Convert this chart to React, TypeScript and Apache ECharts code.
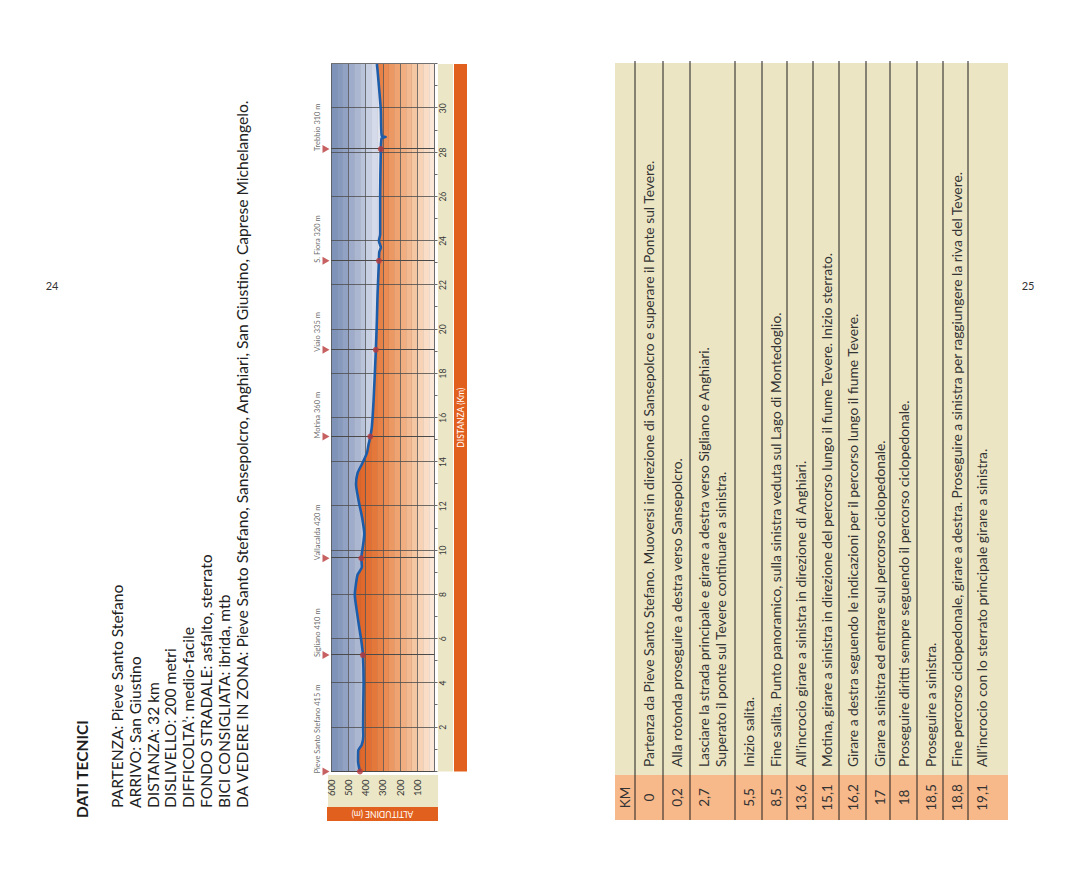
import React, { useEffect, useRef } from 'react';
import * as echarts from 'echarts';

// ---------- data ----------
const profileKm = [0, 0.45, 0.95, 1.2, 1.6, 2, 3, 4, 5.27, 5.9, 6.7, 7.4, 8, 8.5, 8.9, 9.25, 9.65, 10.3, 10.75, 11.5, 12.25, 13, 13.5, 13.9, 14.4, 14.8, 15.15, 15.6, 16.8, 19.07, 20.4, 21.6, 23.1, 23.5, 23.7, 24, 24.3, 26.1, 28.15, 28.65, 28.7, 28.75, 29.9, 30.7, 31.7, 32];
const profileAlt = [432, 443, 442, 422, 413, 414, 413, 411, 415, 424, 440, 453, 462, 455, 446, 421, 424, 413, 407, 420, 440, 455, 446, 421, 392, 382, 372, 363, 353, 340, 334, 330, 322, 320, 311, 322, 315, 315, 311, 306, 283, 306, 311, 319, 330, 334];

const landmarkNames = ['Pieve Santo Stefano 415 m', 'Sigliano 410 m', 'Vallacalda 420 m', 'Motina 360 m', 'Viaio 335 m', 'S. Fiora 320 m', 'Trebbio 310 m'];
const landmarkKm = [0, 5.27, 9.65, 15.15, 19.07, 23.1, 28.15];
const landmarkAlt = [432, 415, 424, 372, 340, 322, 311];

const infoTitle = 'DATI TECNICI';
const infoLines = [
  'PARTENZA: Pieve Santo Stefano',
  'ARRIVO: San Giustino',
  'DISTANZA: 32 km',
  'DISLIVELLO: 200 metri',
  'DIFFICOLTA\u2019: medio-facile',
  'FONDO STRADALE: asfalto, sterrato',
  'BICI CONSIGLIATA: ibrida, mtb',
  'DA VEDERE IN ZONA: Pieve Santo Stefano, Sansepolcro, Anghiari, San Giustino, Caprese Michelangelo.',
];

const tableKm = ['0', '0,2', '2,7', '5,5', '8,5', '13,6', '15,1', '16,2', '17', '18', '18,5', '18,8', '19,1'];
const tableText = [
  'Partenza da Pieve Santo Stefano. Muoversi in direzione di Sansepolcro e superare il Ponte sul Tevere.',
  'Alla rotonda proseguire a destra verso Sansepolcro.',
  'Lasciare la strada principale e girare a destra verso Sigliano e Anghiari.\nSuperato il ponte sul Tevere continuare a sinistra.',
  'Inizio salita.',
  'Fine salita. Punto panoramico, sulla sinistra veduta sul Lago di Montedoglio.',
  'All\u2019incrocio girare a sinistra in direzione di Anghiari.',
  'Motina, girare a sinistra in direzione del percorso lungo il fiume Tevere. Inizio sterrato.',
  'Girare a destra seguendo le indicazioni per il percorso lungo il fiume Tevere.',
  'Girare a sinistra ed entrare sul percorso ciclopedonale.',
  'Proseguire diritti sempre seguendo il percorso ciclopedonale.',
  'Proseguire a sinistra.',
  'Fine percorso ciclopedonale, girare a destra. Proseguire a sinistra per raggiungere la riva del Tevere.',
  'All\u2019incrocio con lo sterrato principale girare a sinistra.',
];

const pageNumbers = ['24', '25'];
const altitudeAxisName = 'ALTITUDINE (m)';
const distanceAxisName = 'DISTANZA (Km)';

// stepped colour bands (top = 600 m, bottom = 0 m)
const blueBands = ['#7f92b8', '#8899be', '#92a2c4', '#9eabca', '#abb7d1', '#b9c3da', '#c7cfe2', '#d4dae9', '#dfe3ee', '#e8eaf1', '#eceef3', '#eceef3', '#eceef3', '#eceef3', '#eceef3', '#eceef3', '#eceef3', '#eceef3'];
const orangeBands = ['#dd5f22', '#dd5f22', '#dd5f22', '#de6124', '#df6427', '#e0682b', '#e26e31', '#e4773a', '#e78146', '#ea8c54', '#ec9862', '#efa371', '#f1af81', '#f3ba91', '#f5c6a2', '#f8d2b4', '#f9ddc6', '#fbe8d9'];

// ---------- layout ----------
const W = 886;
const H = 1080;
const GRID = { left: 114.5, top: 331, width: 707.5, height: 103.5 };
const FONT = 'Lato';

function steppedGradient(colors: string[]) {
  const stops: { offset: number; color: string }[] = [];
  const n = colors.length;
  colors.forEach((c, i) => {
    stops.push({ offset: i / n, color: c });
    stops.push({ offset: (i + 1) / n, color: c });
  });
  return new echarts.graphic.LinearGradient(0, GRID.top, 0, GRID.top + GRID.height, stops, true);
}

function buildGraphic() {
  const els: any[] = [];
  // info block
  els.push({
    type: 'text', x: 68, y: 82, z: 10,
    style: { text: infoTitle, fontFamily: FONT, fontWeight: 'bold', fontSize: 15.5, fill: '#1e1e1e', verticalAlign: 'middle' },
  });
  infoLines.forEach((t, i) => {
    els.push({
      type: 'text', x: 78, y: 117 + 17.8 * i, z: 10,
      style: { text: t, fontFamily: FONT, fontSize: 15.6, fill: '#222', verticalAlign: 'middle' },
    });
  });
  // page numbers (upright on the landscape page)
  els.push({ type: 'text', x: 601, y: 52, rotation: -Math.PI / 2, z: 10, style: { text: pageNumbers[0], fontFamily: FONT, fontSize: 11, fill: '#333', align: 'center', verticalAlign: 'middle' } });
  els.push({ type: 'text', x: 601, y: 1028, rotation: -Math.PI / 2, z: 10, style: { text: pageNumbers[1], fontFamily: FONT, fontSize: 11, fill: '#333', align: 'center', verticalAlign: 'middle' } });

  // chart frames
  els.push({ type: 'rect', z: 0, shape: { x: 79, y: 328, width: 32, height: 110 }, style: { fill: '#ebe6c6' } });
  els.push({ type: 'rect', z: 0, shape: { x: 65, y: 327, width: 14, height: 111 }, style: { fill: '#e2601d' } });
  els.push({ type: 'text', x: 72, y: 382.5, rotation: Math.PI / 2, z: 10, style: { text: altitudeAxisName, fontFamily: FONT, fontSize: 8.5, fill: '#fff', align: 'center', verticalAlign: 'middle' } });
  els.push({ type: 'rect', z: 0, shape: { x: GRID.left, y: 438, width: GRID.width, height: 15 }, style: { fill: '#ebe6c6' } });
  els.push({ type: 'rect', z: 0, shape: { x: GRID.left, y: 454, width: GRID.width, height: 13 }, style: { fill: '#e2601d' } });
  els.push({ type: 'text', x: GRID.left + GRID.width / 2, y: 460.5, z: 10, style: { text: distanceAxisName, fontFamily: FONT, fontSize: 8.5, fill: '#fff', align: 'center', verticalAlign: 'middle' } });

  // table
  const tTop = 615;
  const tBottom = 1008;
  const headerH = 20;
  const rowH = [28, 27, 45, 27, 25, 26, 26, 27, 24, 27, 26, 25, 40];
  els.push({ type: 'rect', z: 0, shape: { x: 66, y: tTop, width: 45, height: tBottom - tTop }, style: { fill: '#f8b98a' } });
  els.push({ type: 'rect', z: 0, shape: { x: 111, y: tTop, width: 712, height: tBottom - tTop }, style: { fill: '#ebe5c4' } });
  els.push({ type: 'text', x: 88.5, y: tTop + headerH / 2, z: 10, style: { text: 'KM', fontFamily: FONT, fontSize: 13.5, fill: '#333', align: 'center', verticalAlign: 'middle' } });
  let y = tTop + headerH;
  tableKm.forEach((km, i) => {
    els.push({ type: 'line', z: 5, shape: { x1: 66, y1: y, x2: 825, y2: y }, style: { stroke: '#1e1e1e', lineWidth: 1 } });
    els.push({ type: 'text', x: 88.5, y: y + 5, z: 10, style: { text: km, fontFamily: FONT, fontSize: 13.5, fill: '#333', align: 'center', verticalAlign: 'top', lineHeight: 17 } });
    els.push({ type: 'text', x: 119, y: y + 5, z: 10, style: { text: tableText[i], fontFamily: FONT, fontSize: 13.8, fill: '#333', align: 'left', verticalAlign: 'top', lineHeight: 17 } });
    y += rowH[i];
  });
  return els;
}

export default function App() {
  const ref = useRef<HTMLDivElement>(null);
  useEffect(() => {
    if (!ref.current) return;
    const chart = echarts.init(ref.current, undefined, { renderer: 'svg', width: W, height: H });
    const profile = profileKm.map((k, i) => [k, profileAlt[i]]);
    const marks = landmarkKm.map((k, i) => ({ value: [k, 600], name: landmarkNames[i] }));
    const dots = landmarkKm.map((k, i) => [k, landmarkAlt[i]]);
    chart.setOption({
      animation: false,
      backgroundColor: '#ffffff',
      textStyle: { fontFamily: FONT },
      grid: { left: GRID.left, top: GRID.top, width: GRID.width, height: GRID.height, containLabel: false },
      xAxis: {
        type: 'value', min: 0, max: 32, interval: 2, z: 3,
        axisLine: { show: true, lineStyle: { color: '#6b6b6b', width: 1 } },
        axisTick: { show: true, length: 3, lineStyle: { color: '#6b6b6b' } },
        minorTick: { show: true, splitNumber: 2, length: 3, lineStyle: { color: '#6b6b6b' } },
        axisLabel: { fontSize: 8.5, color: '#3a3a3a', margin: 4, fontFamily: FONT, showMinLabel: false, showMaxLabel: false },
        splitLine: { show: true, lineStyle: { color: '#4d4d4d', width: 0.8 } },
      },
      yAxis: {
        type: 'value', min: 0, max: 600, interval: 100, z: 3,
        axisLine: { show: false }, axisTick: { show: false },
        axisLabel: { fontSize: 9.5, color: '#3a3a3a', margin: 8, fontFamily: FONT, showMinLabel: false },
        splitLine: { show: true, lineStyle: { color: '#555', width: 0.8 } },
        minorTick: { show: false, splitNumber: 3 },
        minorSplitLine: { show: true, lineStyle: { color: 'rgba(90,90,90,0.2)', width: 0.5 } },
      },
      graphic: buildGraphic(),
      series: [
        {
          type: 'line', z: 1, silent: true, symbol: 'none',
          data: [[0, 600], [32, 600]],
          lineStyle: { width: 0 },
          areaStyle: { color: steppedGradient(blueBands), opacity: 1 },
        },
        {
          type: 'line', z: 2, silent: true, symbol: 'none', smooth: 0.2,
          data: profile,
          lineStyle: { width: 0 },
          areaStyle: { color: steppedGradient(orangeBands), opacity: 1 },
        },
        {
          type: 'line', z: 5, silent: true, symbol: 'none', smooth: 0.2,
          data: profile,
          lineStyle: { color: '#1c5ca8', width: 2.6 },
        },
        {
          type: 'scatter', z: 4, clip: false, silent: true,
          symbol: 'triangle', symbolRotate: 180, symbolSize: [8, 7], symbolOffset: [0, -5],
          itemStyle: { color: '#b8383a' },
          data: marks,
          label: {
            show: true, position: 'top', distance: 1, align: 'left', offset: [-2, 0],
            formatter: (p: any) => p.name, fontSize: 7.5, color: '#444', fontFamily: FONT,
          },
          markLine: {
            silent: true, symbol: ['none', 'none'], label: { show: false },
            lineStyle: { color: '#4a4a4a', width: 1, type: 'solid' },
            data: landmarkKm.map((k) => [{ coord: [k, 600] }, { coord: [k, 0] }]),
          },
        },
        {
          type: 'scatter', z: 6, silent: true, symbol: 'circle', symbolSize: 6,
          itemStyle: { color: '#b8383a' },
          data: dots,
        },
      ],
    });
    return () => chart.dispose();
  }, []);

  return (
    <div style={{ position: 'fixed', left: 0, top: 0, width: 1080, height: 886, overflow: 'hidden', background: '#fff' }}>
      <div
        style={{
          position: 'absolute', left: 0, top: 0, width: W, height: H,
          transformOrigin: '0 0', transform: `translate(0px, ${W}px) rotate(-90deg)`,
        }}
      >
        <div ref={ref} style={{ width: W, height: H }} />
      </div>
    </div>
  );
}
